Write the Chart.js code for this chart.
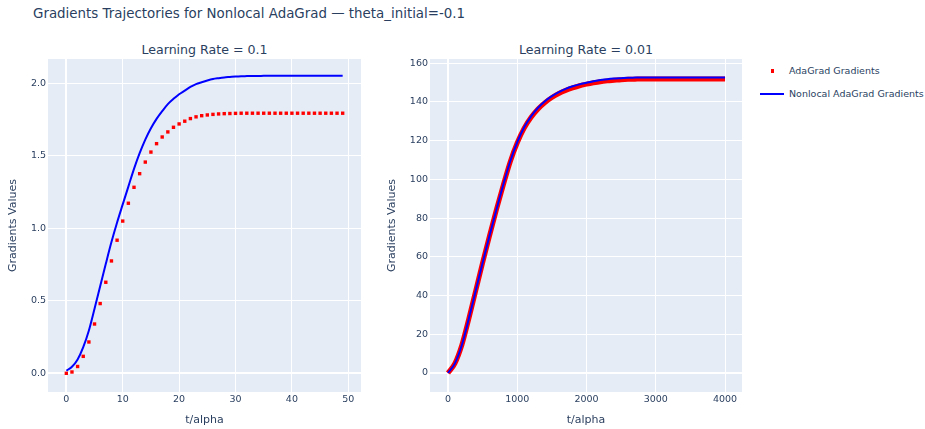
<!DOCTYPE html>
<html>
<head>
<meta charset="utf-8">
<script src="https://cdn.jsdelivr.net/npm/chart.js@4.4.7/dist/chart.umd.min.js"></script>
<style>
  body { margin: 0; background: #ffffff; }
  #page { position: relative; width: 925px; height: 429px; overflow: hidden; font-family: "DejaVu Sans", sans-serif; color: #2a3f5f; }
  .txt { position: absolute; white-space: nowrap; }
  #mainTitle { left: 33px; top: 4px; line-height: 20px; font-size: 13.4px; }
  .subTitle { width: 300px; text-align: center; top: 40px; line-height: 20px; font-size: 12.6px; }
  #leftTitle { left: 54.5px; }
  #rightTitle { left: 436px; }
  canvas { position: absolute; top: 0; }
  #leftChart { left: 0; }
  #rightChart { left: 370px; }
  .legendText { left: 789px; line-height: 14px; font-size: 9.5px; }
  #legendMarker { position: absolute; left: 770.5px; top: 69px; width: 3.5px; height: 3.5px; background: #ff0000; }
  #legendLine { position: absolute; left: 760px; top: 93px; width: 24px; height: 2px; background: #0000ff; }
</style>
</head>
<body>
<div id="page">
  <div id="mainTitle" class="txt">Gradients Trajectories for Nonlocal AdaGrad — theta_initial=-0.1</div>
  <div id="leftTitle" class="txt subTitle">Learning Rate = 0.1</div>
  <div id="rightTitle" class="txt subTitle">Learning Rate = 0.01</div>
  <canvas id="leftChart" width="370" height="429"></canvas>
  <canvas id="rightChart" width="390" height="429"></canvas>
  <div id="legendMarker"></div>
  <div class="txt legendText" style="top: 64px;">AdaGrad Gradients</div>
  <div id="legendLine"></div>
  <div class="txt legendText" style="top: 87px;">Nonlocal AdaGrad Gradients</div>
</div>
<script>
// learning rate 0.1 panel
const leftSteps = [0, 1, 2, 3, 4, 5, 6, 7, 8, 9, 10, 11, 12, 13, 14, 15, 16, 17, 18, 19,
  20, 21, 22, 23, 24, 25, 26, 27, 28, 29, 30, 31, 32, 33, 34, 35, 36, 37, 38, 39,
  40, 41, 42, 43, 44, 45, 46, 47, 48, 49];
const leftAdaGrad = [0.0, 0.009, 0.047, 0.117, 0.216, 0.34, 0.481, 0.628, 0.775, 0.918,
  1.05, 1.173, 1.283, 1.377, 1.457, 1.526, 1.584, 1.63, 1.665, 1.697,
  1.72, 1.739, 1.757, 1.769, 1.777, 1.782, 1.786, 1.789, 1.791, 1.792,
  1.793, 1.794, 1.794, 1.794, 1.794, 1.794, 1.794, 1.794, 1.794, 1.794,
  1.794, 1.794, 1.794, 1.794, 1.794, 1.794, 1.794, 1.794, 1.794, 1.794];
const leftNonlocal = [0.018, 0.045, 0.095, 0.18, 0.295, 0.445, 0.6, 0.755, 0.905, 1.04,
  1.165, 1.288, 1.41, 1.518, 1.612, 1.69, 1.755, 1.808, 1.857, 1.893,
  1.925, 1.95, 1.975, 1.995, 2.008, 2.02, 2.03, 2.036, 2.041, 2.044,
  2.047, 2.049, 2.05, 2.051, 2.051, 2.052, 2.052, 2.052, 2.052, 2.052,
  2.052, 2.052, 2.052, 2.052, 2.052, 2.052, 2.052, 2.052, 2.052, 2.052];
const leftXTicks = [0, 10, 20, 30, 40, 50];
const leftYTicks = [0, 0.5, 1, 1.5, 2];
const leftYLabels = ["0.0", "0.5", "1.0", "1.5", "2.0"];

// learning rate 0.01 panel
const rightSteps = [0, 100, 200, 300, 400, 500, 600, 700, 800, 900,
  1000, 1100, 1200, 1300, 1400, 1500, 1600, 1700, 1800, 1900,
  2000, 2100, 2200, 2300, 2400, 2500, 2600, 2700, 2800, 2900,
  3000, 3100, 3200, 3300, 3400, 3500, 3600, 3700, 3800, 3900, 4000];
const rightAdaGrad = [0, 5.0, 14.5, 28.0, 42.5, 57.0, 71.0, 84.5, 97.3, 109.3,
  118.9, 126.5, 132.1, 136.4, 139.7, 142.3, 144.4, 146.0, 147.3, 148.4,
  149.2, 149.9, 150.5, 150.9, 151.2, 151.5, 151.7, 151.8, 151.9, 151.9,
  151.9, 151.9, 151.9, 151.9, 151.9, 151.9, 151.9, 151.9, 151.9, 151.9, 151.9];
const rightNonlocal = [0, 5.0, 14.5, 28.0, 42.5, 57.0, 71.0, 84.5, 97.5, 109.5,
  119.2, 126.9, 132.6, 137.0, 140.4, 143.0, 145.1, 146.8, 148.1, 149.1,
  149.9, 150.7, 151.3, 151.8, 152.1, 152.3, 152.5, 152.6, 152.7, 152.7,
  152.7, 152.7, 152.7, 152.7, 152.7, 152.7, 152.7, 152.7, 152.7, 152.7, 152.7];
const rightXTicks = [0, 1000, 2000, 3000, 4000];
const rightYTicks = [0, 20, 40, 60, 80, 100, 120, 140, 160];

const textColor = "#2a3f5f";
Chart.defaults.font.family = "'DejaVu Sans', sans-serif";
Chart.defaults.color = textColor;

const plotBackground = {
  id: "plotBackground",
  beforeDraw(chart) {
    const { ctx, chartArea } = chart;
    ctx.save();
    ctx.fillStyle = "#e5ecf6";
    ctx.fillRect(chartArea.left, chartArea.top, chartArea.width, chartArea.height);
    ctx.restore();
  },
};

function toPoints(xs, ys) {
  return xs.map((x, i) => ({ x, y: ys[i] }));
}

function gridOptions() {
  return {
    color: "#ffffff",
    lineWidth: (ctx) => (ctx.tick && ctx.tick.value === 0 ? 2 : 1),
    drawTicks: false,
  };
}

function buildChart(canvas, panel) {
  return new Chart(canvas, {
    type: "scatter",
    data: { datasets: panel.datasets },
    options: {
      responsive: false,
      animation: false,
      devicePixelRatio: 1,
      layout: { padding: { left: 0, right: panel.rightPad, top: 59, bottom: 0 } },
      plugins: { legend: { display: false }, tooltip: { enabled: false } },
      scales: {
        x: {
          type: "linear",
          min: panel.xMin,
          max: panel.xMax,
          grid: gridOptions(),
          border: { display: false },
          afterBuildTicks: (scale) => { scale.ticks = panel.xTicks.map((v) => ({ value: v })); },
          afterFit: (scale) => { scale.height = 37; },
          ticks: { padding: 2, maxRotation: 0, font: { size: 9.5 }, color: textColor, callback: (value) => String(value) },
          title: { display: true, text: "t/alpha", font: { size: 11 }, color: textColor, padding: { top: 0, bottom: 2 } },
        },
        y: {
          type: "linear",
          min: panel.yMin,
          max: panel.yMax,
          grid: gridOptions(),
          border: { display: false },
          afterBuildTicks: (scale) => { scale.ticks = panel.yTicks.map((v) => ({ value: v })); },
          afterFit: (scale) => { scale.width = panel.yWidth; },
          ticks: { padding: 2, font: { size: 9.5 }, color: textColor, callback: panel.yLabel },
          title: { display: true, text: "Gradients Values", font: { size: 11 }, color: textColor, padding: { top: panel.yTitlePad, bottom: 0 } },
        },
      },
    },
    plugins: [plotBackground],
  });
}

buildChart(document.querySelector("#leftChart"), {
  xMin: -3.25, xMax: 52.25, yMin: -0.129, yMax: 2.168,
  xTicks: leftXTicks, yTicks: leftYTicks,
  yLabel: (value, index) => leftYLabels[index],
  yWidth: 48, rightPad: 9, yTitlePad: 7,
  datasets: [
    {
      label: "Nonlocal AdaGrad Gradients",
      data: toPoints(leftSteps, leftNonlocal),
      showLine: true,
      cubicInterpolationMode: "monotone",
      borderColor: "#0000ff",
      borderWidth: 2,
      pointRadius: 0,
      order: 0,
    },
    {
      label: "AdaGrad Gradients",
      data: toPoints(leftSteps, leftAdaGrad),
      showLine: false,
      pointStyle: "rect",
      pointRadius: 2.4,
      pointBorderWidth: 0,
      backgroundColor: "#ff0000",
      borderColor: "#ff0000",
      order: 1,
    },
  ],
});

buildChart(document.querySelector("#rightChart"), {
  xMin: -260, xMax: 4245, yMin: -9.8, yMax: 162.2,
  xTicks: rightXTicks, yTicks: rightYTicks,
  yLabel: (value) => String(value),
  yWidth: 60, rightPad: 18, yTitlePad: 15.4,
  datasets: [
    {
      label: "Nonlocal AdaGrad Gradients",
      data: toPoints(rightSteps, rightNonlocal),
      showLine: true,
      cubicInterpolationMode: "monotone",
      borderColor: "#0000ff",
      borderWidth: 2,
      pointRadius: 0,
      order: 0,
    },
    {
      label: "AdaGrad Gradients",
      data: toPoints(rightSteps, rightAdaGrad),
      showLine: true,
      cubicInterpolationMode: "monotone",
      borderColor: "#ff0000",
      borderWidth: 5,
      pointRadius: 0,
      order: 1,
    },
  ],
});
</script>
</body>
</html>
